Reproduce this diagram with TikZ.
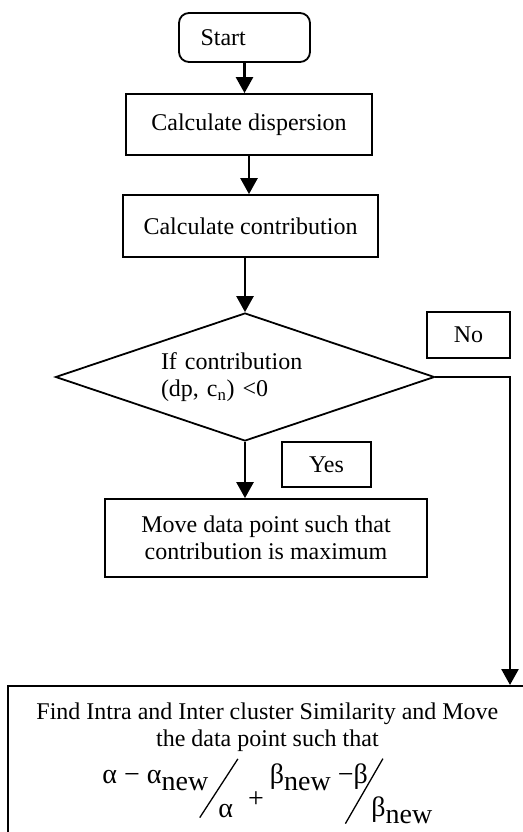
\documentclass[tikz,border=0pt]{standalone}
\usepackage{fontspec}
\setmainfont{Liberation Serif}
\usepackage{graphicx}
\usetikzlibrary{shapes.geometric,arrows.meta}
\newcommand{\fracslash}[2]{\rotatebox{#1}{\rule{#2}{1.3pt}}}
\begin{document}
\begin{tikzpicture}[x=1pt,y=-1pt,
  every node/.style={font=\fontsize{24}{27}\selectfont, line width=1.8pt},
  box/.style={draw, rectangle, inner sep=0pt},
  decision/.style={draw, diamond, aspect=2.96, inner sep=0pt, minimum width=379pt, minimum height=128pt},
  flowline/.style={line width=2.6pt, -{Triangle[length=16pt,width=17pt]}}]
  \useasboundingbox (0,0) rectangle (522,832);
  % Steps
  \node[box, rounded corners=10pt, minimum width=131pt, minimum height=49pt, text width=88pt, align=left] (start) at (244.5,37.5) {Start};
  \node[box, minimum width=246pt, minimum height=61pt] (disp) at (249,124.5) {Calculate dispersion};
  \node[box, minimum width=255pt, minimum height=62pt] (contr) at (250.5,226) {Calculate contribution};
  \node[decision, text width=168pt, align=left] (dec) at (245,377) {If contribution\\(dp, c\textsubscript{n}) <0};
  \node[box, minimum width=83pt, minimum height=46pt] (no) at (468.5,335) {No};
  \node[box, minimum width=89pt, minimum height=45pt] (yes) at (326.5,464.5) {Yes};
  \node[box, minimum width=322pt, minimum height=78pt, align=center] (move) at (266,538) {Move data point such that\\contribution is maximum};
  \node[box, anchor=north west, minimum width=519pt, minimum height=155pt, align=center] (find) at (7,685) {Find Intra and Inter cluster Similarity and Move\\the data point such that\\[6pt]{\fontsize{28}{30}\selectfont α − α\raisebox{-7pt}{new}\kern-9pt\raisebox{-34pt}{\fracslash{57}{70pt}}\kern-20pt\raisebox{-34pt}{α}\kern15pt\raisebox{-24pt}{+}\kern6pt β\raisebox{-7pt}{new} −β\kern-23pt\raisebox{-40pt}{\fracslash{60}{75pt}}\kern-12pt\raisebox{-33pt}{β\raisebox{-7pt}{new}}}};
  % Connectors
  \coordinate (turn) at (510,377);
  \draw[flowline] (start.south) -- (start.south |- disp.north);
  \draw[flowline] (disp.south) -- (disp.south |- contr.north);
  \draw[flowline] (dec.north |- contr.south) -- (dec.north);
  \draw[flowline] (dec.south) -- (dec.south |- move.north);
  \draw[flowline] (dec.east) -- (turn) -- (turn |- find.north);
\end{tikzpicture}
\end{document}
